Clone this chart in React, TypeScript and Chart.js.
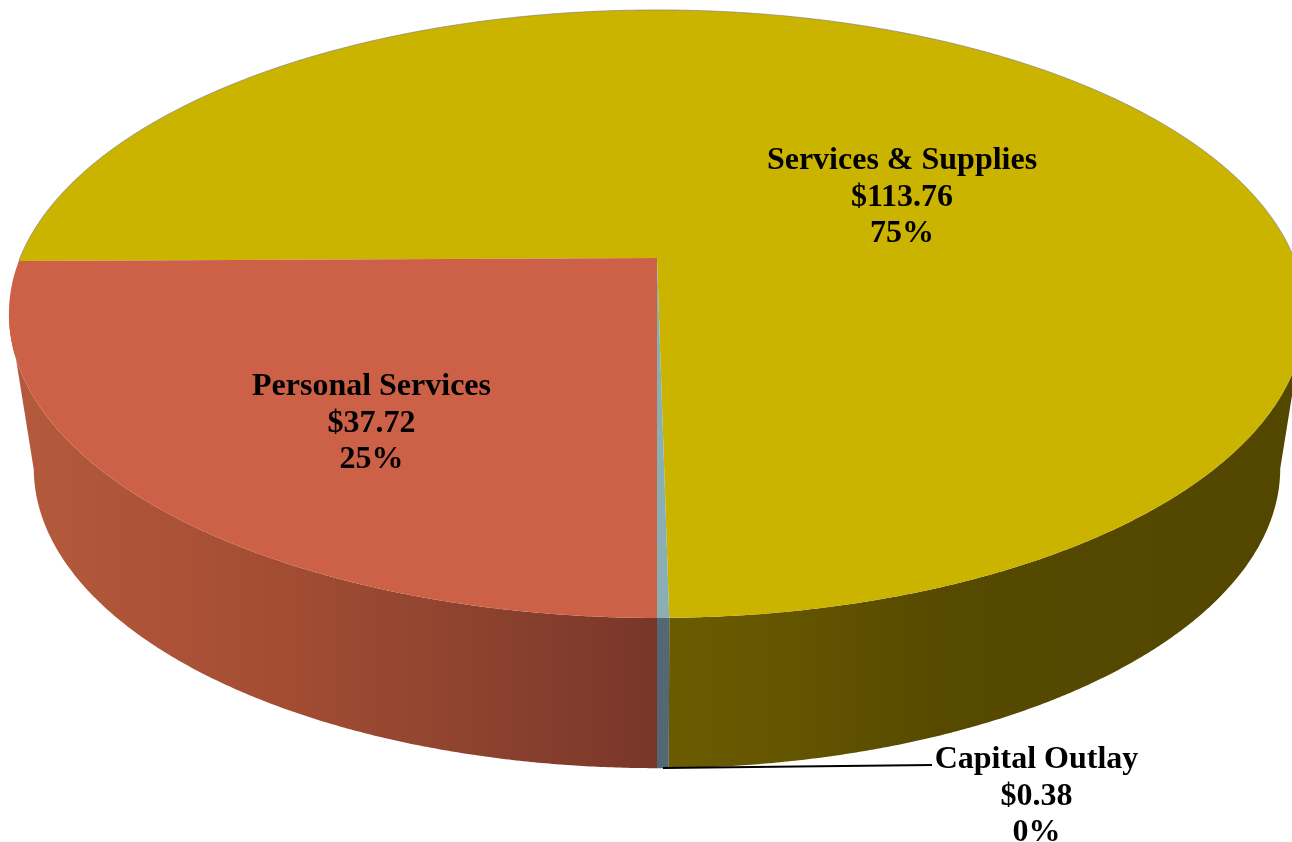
import React, { useEffect, useRef } from "react";
import { Chart, registerables } from "chart.js";

Chart.register(...registerables);

const categories = ["Services & Supplies", "Capital Outlay", "Personal Services"];
const amounts = [113.76, 0.38, 37.72];
const percentLabels = ["75%", "0%", "25%"];

const topColors = ["#CBB400", "#89AFB2", "#CD6147"];
const wallStops: [number, string][][] = [
  [[657, "#6C5C00"], [800, "#635400"], [950, "#564900"], [1292, "#534700"]],
  [[657, "#536874"], [672, "#536874"]],
  [[20, "#B45A3C"], [250, "#A64E34"], [450, "#90442F"], [600, "#7F3A2B"], [660, "#77362A"]],
];
const labelBoxes = [
  { x: 902, y: 161 },
  { x: 1036.5, y: 760 },
  { x: 371.5, y: 387 },
];

const APEX_X = 657;
const TOP = { cy: 258, rx: 637, ry: 293.7, k: 0.184 };
const BOTTOM = { cy: 413, rx: 612.6, ry: 289.8, k: 0.184 };

type Rim = typeof TOP;
function project(r: Rim, a: number): [number, number] {
  const u = Math.cos(a);
  const v = Math.sin(a);
  const d = 1 - r.k * v;
  return [APEX_X + (r.rx * u) / d, r.cy + (r.ry * v) / d];
}

const pie3d = {
  id: "pie3d",
  beforeDatasetsDraw(chart: any) {
    const ctx: CanvasRenderingContext2D = chart.ctx;
    const arcs = chart.getDatasetMeta(0).data;
    ctx.save();
    // walls: one band per slice, from silhouette to silhouette along the front rim
    arcs.forEach((arc: any, i: number) => {
      const stops = wallStops[i];
      const x0 = stops[0][0];
      const x1 = stops[stops.length - 1][0];
      const g = ctx.createLinearGradient(x0, 0, x1, 0);
      stops.forEach(([x, c]) => g.addColorStop((x - x0) / (x1 - x0), c));
      const n = Math.max(2, Math.ceil((arc.endAngle - arc.startAngle) / 0.005));
      const angles: number[] = [];
      for (let s = 0; s <= n; s++) {
        const a = arc.startAngle + ((arc.endAngle - arc.startAngle) * s) / n;
        if (Math.sin(a) >= TOP.k) angles.push(a);
      }
      if (angles.length < 2) return;
      ctx.fillStyle = g;
      ctx.beginPath();
      angles.forEach((a, s) => {
        const p = project(TOP, a);
        if (s === 0) ctx.moveTo(p[0], p[1]);
        else ctx.lineTo(p[0], p[1]);
      });
      for (let s = angles.length - 1; s >= 0; s--) {
        const p = project(BOTTOM, angles[s]);
        ctx.lineTo(p[0], p[1]);
      }
      ctx.closePath();
      ctx.fill();
    });
    // top faces
    arcs.forEach((arc: any, i: number) => {
      ctx.fillStyle = topColors[i];
      ctx.beginPath();
      ctx.moveTo(APEX_X, TOP.cy);
      const n = Math.max(2, Math.ceil((arc.endAngle - arc.startAngle) / 0.005));
      for (let s = 0; s <= n; s++) {
        const p = project(TOP, arc.startAngle + ((arc.endAngle - arc.startAngle) * s) / n);
        ctx.lineTo(p[0], p[1]);
      }
      ctx.closePath();
      ctx.fill();
    });
    // faint edge along the far rim
    const back = arcs[0];
    ctx.strokeStyle = "rgba(125,125,125,0.65)";
    ctx.lineWidth = 1;
    ctx.beginPath();
    let started = false;
    const m = Math.ceil((back.endAngle - back.startAngle) / 0.005);
    for (let s = 0; s <= m; s++) {
      const a = back.startAngle + ((back.endAngle - back.startAngle) * s) / m;
      if (Math.sin(a) > 0.05) continue;
      const p = project(TOP, a);
      if (!started) {
        ctx.moveTo(p[0], p[1]);
        started = true;
      } else ctx.lineTo(p[0], p[1]);
    }
    ctx.stroke();
    ctx.restore();
    return false;
  },
  afterDraw(chart: any) {
    const ctx: CanvasRenderingContext2D = chart.ctx;
    ctx.save();
    ctx.strokeStyle = "#000";
    ctx.lineWidth = 2;
    ctx.beginPath();
    ctx.moveTo(663, 768);
    ctx.lineTo(932, 765);
    ctx.stroke();
    ctx.fillStyle = "#000";
    ctx.font = 'bold 32px "Liberation Serif"';
    ctx.textAlign = "center";
    ctx.textBaseline = "middle";
    categories.forEach((c, i) => {
      const { x, y } = labelBoxes[i];
      ctx.fillText(c, x, y);
      ctx.fillText(`$${amounts[i].toFixed(2)}`, x, y + 36.5);
      ctx.fillText(percentLabels[i], x, y + 73);
    });
    ctx.restore();
  },
};

export default function App() {
  const ref = useRef<HTMLCanvasElement>(null);
  useEffect(() => {
    document.body.style.margin = "0";
    const chart = new Chart(ref.current!, {
      type: "pie",
      data: {
        labels: categories,
        datasets: [{ data: amounts, backgroundColor: topColors, borderWidth: 0 }],
      },
      options: {
        responsive: false,
        animation: false,
        rotation: 269.42,
        plugins: { legend: { display: false }, tooltip: { enabled: false } },
      },
      plugins: [pie3d],
    } as any);
    return () => chart.destroy();
  }, []);
  return <canvas ref={ref} width={1292} height={842} style={{ display: "block" }} />;
}
